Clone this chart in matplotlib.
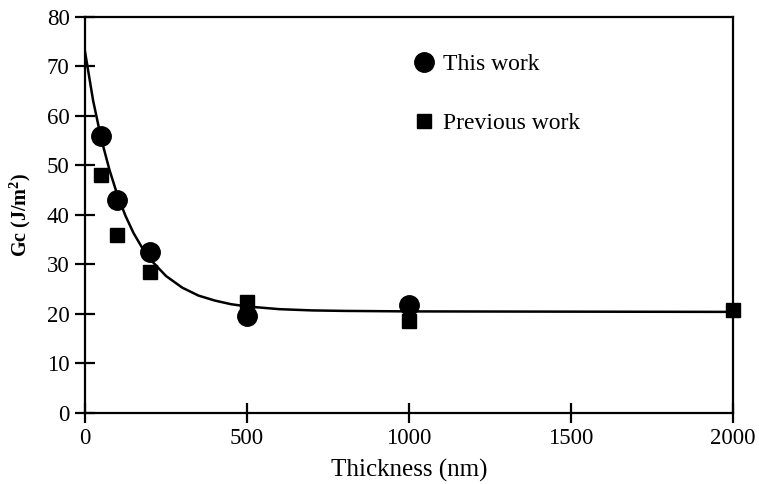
import matplotlib
matplotlib.use("Agg")
import matplotlib.pyplot as plt
from matplotlib.lines import Line2D

plt.rcParams['font.family'] = ['Liberation Serif', 'DejaVu Serif']
plt.rcParams['mathtext.fontset'] = 'custom'
plt.rcParams['mathtext.rm'] = 'Liberation Serif'
plt.rcParams['mathtext.bf'] = 'Liberation Serif:bold'

# Data
this_x = [50, 100, 200, 500, 1000]
this_y = [56.0, 43.0, 32.5, 19.5, 21.8]
prev_x = [50, 100, 200, 500, 1000, 2000]
prev_y = [48.0, 36.0, 28.5, 22.3, 18.6, 20.7]
curve_x = [0, 25, 50, 75, 100, 125, 150, 175, 200, 250, 300, 350, 400, 450,
           500, 600, 700, 800, 1000, 1500, 2000]
curve_y = [73.0, 63.1, 55.4, 49.2, 44.0, 39.8, 36.3, 33.5, 31.1, 27.65, 25.3,
           23.7, 22.7, 21.96, 21.5, 20.95, 20.7, 20.6, 20.5, 20.45, 20.4]
xticks = [0, 500, 1000, 1500, 2000]
yticks = [0, 10, 20, 30, 40, 50, 60, 70, 80]

fig = plt.figure(figsize=(7.59, 4.84), dpi=100)
ax = fig.add_axes([0.112, 0.147, 0.854, 0.818])

ax.plot(curve_x, curve_y, color='black', lw=1.8, zorder=2)
ax.plot(this_x, this_y, 'o', color='black', ms=14, zorder=3, clip_on=False)
ax.plot(prev_x, prev_y, 's', color='black', ms=10, zorder=3, clip_on=False)

ax.set_xlim(0, 2000)
ax.set_ylim(0, 80)
ax.set_xticks(xticks)
ax.set_yticks(yticks)
for s in ax.spines.values():
    s.set_linewidth(1.6)
ax.tick_params(direction='inout', length=14, width=1.6, labelsize=16.5, pad=4,
               top=False, right=False)

ax.set_xlabel('Thickness (nm)', fontsize=18, labelpad=7)
ax.set_ylabel('Gc (J/m$\\mathbf{^2}$)', fontsize=14.5, fontweight='bold', labelpad=10)

handles = [Line2D([], [], marker='o', ls='none', color='black', ms=14),
           Line2D([], [], marker='s', ls='none', color='black', ms=10)]
ax.legend(handles, ['This work', 'Previous work'], loc='upper left',
          bbox_to_anchor=(0.527, 0.913), bbox_transform=fig.transFigure,
          frameon=False, fontsize=17, labelspacing=1.58, handletextpad=0.26,
          handlelength=1.06, borderpad=0)

fig.savefig('out.png', dpi=100)
